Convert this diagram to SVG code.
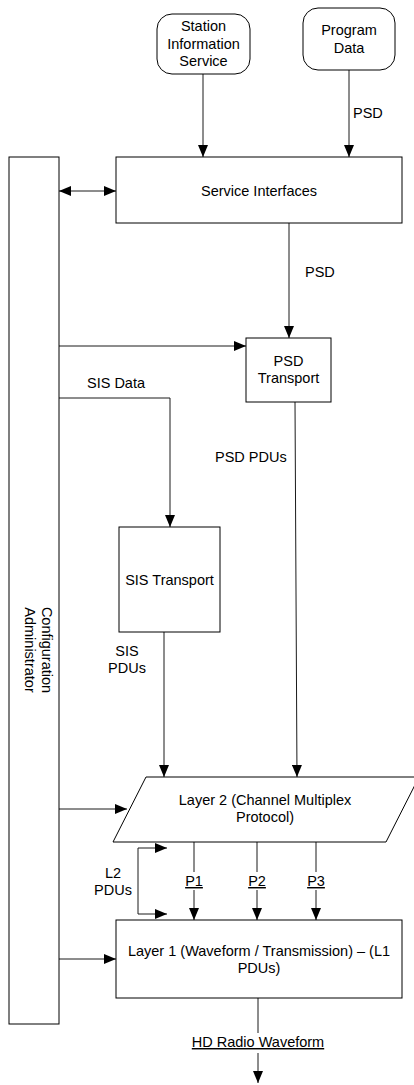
<svg xmlns="http://www.w3.org/2000/svg" width="414" height="1085" viewBox="0 0 414 1085">
  <style>
    .box { fill: #ffffff; stroke: #000000; stroke-width: 1; }
    .ln { fill: none; stroke: #1a1a1a; stroke-width: 1; }
    .arr { marker-end: url(#head); }
    text { font-family: "Liberation Sans", Arial, sans-serif; font-size: 14.5px; fill: #000000; }
    .c { text-anchor: middle; }
    .u { text-decoration: underline; }
  </style>
  <defs>
    <marker id="head" markerUnits="userSpaceOnUse" markerWidth="12" markerHeight="10" refX="12" refY="5" orient="auto">
      <path d="M0,0 L12,5 L0,10 Z" fill="#000000"/>
    </marker>
    <marker id="tail" markerUnits="userSpaceOnUse" markerWidth="12" markerHeight="10" refX="0" refY="5" orient="auto">
      <path d="M12,0 L0,5 L12,10 Z" fill="#000000"/>
    </marker>
  </defs>

  <rect width="414" height="1085" fill="#ffffff"/>

  <!-- connectors -->
  <g id="connectors">
    <line class="ln arr" x1="203" y1="74" x2="203" y2="157"/>
    <line class="ln arr" x1="349" y1="70" x2="349" y2="157"/>
    <line class="ln arr" x1="59" y1="191" x2="116" y2="191" marker-start="url(#tail)"/>
    <line class="ln arr" x1="289" y1="223" x2="289" y2="338"/>
    <line class="ln arr" x1="59" y1="346" x2="246" y2="346"/>
    <polyline class="ln arr" points="59,398 170,398 170,527"/>
    <line class="ln arr" x1="295" y1="402" x2="297" y2="777"/>
    <line class="ln arr" x1="164" y1="632" x2="164" y2="777"/>
    <line class="ln arr" x1="59" y1="809" x2="127" y2="809"/>
    <line class="ln arr" x1="138" y1="848" x2="167" y2="848"/>
    <polyline class="ln arr" points="138,848 138,914 167,914"/>
    <line class="ln" x1="194" y1="842" x2="194" y2="872"/>
    <line class="ln arr" x1="194" y1="890" x2="194" y2="920"/>
    <line class="ln" x1="257" y1="842" x2="257" y2="872"/>
    <line class="ln arr" x1="257" y1="890" x2="257" y2="920"/>
    <line class="ln" x1="316" y1="842" x2="316" y2="872"/>
    <line class="ln arr" x1="316" y1="890" x2="316" y2="920"/>
    <line class="ln arr" x1="59" y1="959" x2="116" y2="959"/>
    <line class="ln" x1="258" y1="998" x2="258" y2="1033"/>
    <line class="ln arr" x1="258" y1="1053" x2="258" y2="1083"/>
  </g>

  <!-- connector labels -->
  <g id="labels">
    <text x="353" y="118">PSD</text>
    <text x="305" y="277">PSD</text>
    <text x="87" y="388">SIS Data</text>
    <text x="215" y="462">PSD PDUs</text>
    <text class="c" x="127" y="656">SIS</text>
    <text class="c" x="127" y="673">PDUs</text>
    <text class="c" x="113" y="878">L2</text>
    <text class="c" x="113" y="895">PDUs</text>
    <text class="c u" x="194" y="886">P1</text>
    <text class="c u" x="257" y="886">P2</text>
    <text class="c u" x="316" y="886">P3</text>
    <text class="c u" x="258" y="1047">HD Radio Waveform</text>
  </g>

  <g id="station-information-service">
    <rect class="box" x="157" y="14" width="93" height="60" rx="15" ry="15"/>
    <text class="c" x="203.5" y="31">Station</text>
    <text class="c" x="203.5" y="48.5">Information</text>
    <text class="c" x="203.5" y="66">Service</text>
  </g>

  <g id="program-data">
    <rect class="box" x="303" y="8" width="92" height="62" rx="15" ry="15"/>
    <text class="c" x="349" y="35">Program</text>
    <text class="c" x="349" y="52.5">Data</text>
  </g>

  <g id="configuration-administrator">
    <rect class="box" x="9" y="157" width="50" height="867"/>
    <g transform="translate(41.5,650) rotate(90)">
      <text class="c" x="0" y="0">Configuration</text>
      <text class="c" x="0" y="17">Administrator</text>
    </g>
  </g>

  <g id="service-interfaces">
    <rect class="box" x="116" y="157" width="286" height="66"/>
    <text class="c" x="259" y="196">Service Interfaces</text>
  </g>

  <g id="psd-transport">
    <rect class="box" x="246" y="338" width="85" height="64"/>
    <text class="c" x="288.5" y="366">PSD</text>
    <text class="c" x="288.5" y="382.5">Transport</text>
  </g>

  <g id="sis-transport">
    <rect class="box" x="119" y="527" width="101" height="105"/>
    <text class="c" x="169.5" y="585">SIS Transport</text>
  </g>

  <g id="layer-2">
    <polygon class="box" points="146,777 419,777 386,842 113,842"/>
    <text class="c" x="265" y="805">Layer 2 (Channel Multiplex</text>
    <text class="c" x="265" y="822">Protocol)</text>
  </g>

  <g id="layer-1">
    <rect class="box" x="116" y="920" width="286" height="78"/>
    <text class="c" x="259" y="955.5">Layer 1 (Waveform / Transmission) – (L1</text>
    <text class="c" x="259" y="972.5">PDUs)</text>
  </g>
</svg>
